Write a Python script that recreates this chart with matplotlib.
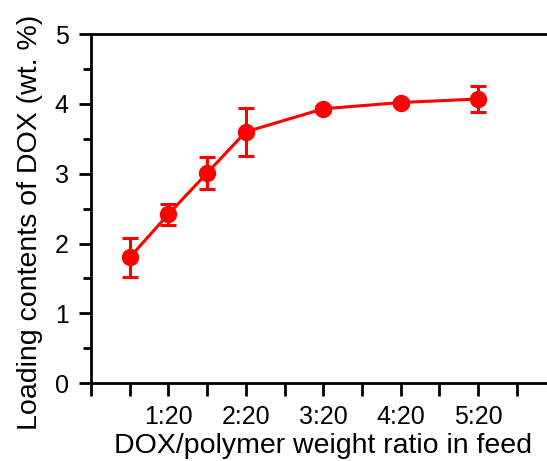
import numpy as np
import matplotlib
matplotlib.use('Agg')
import matplotlib.pyplot as plt

# DOX:polymer ratio (x:20) and loading content (wt. %)
ratio = [0.5, 1, 1.5, 2, 3, 4, 5]
loading = [1.80, 2.42, 3.01, 3.60, 3.93, 4.02, 4.07]
err = [0.28, 0.15, 0.23, 0.34, 0.04, 0.04, 0.19]
tick_labels = ['1:20', '2:20', '3:20', '4:20', '5:20']

plt.rcParams['font.family'] = ['Liberation Sans', 'DejaVu Sans']

fig = plt.figure(figsize=(5.47, 4.61), dpi=100)
ax = fig.add_axes([0.1664, 0.169, 0.849, 0.757])

ax.errorbar(ratio, loading, yerr=err, color='#ff0000', marker='o',
            markersize=11.5, linewidth=2.2, elinewidth=2.2, capsize=5.5,
            capthick=2.2)

ax.set_xlim(0, 6)
ax.set_ylim(0, 5)
ax.set_xticks(np.arange(0, 6.01, 0.5))
ax.set_xticklabels(['', ''] + [l for t in tick_labels for l in (t, '')][:-1] + ['', ''])
ax.set_yticks([0, 1, 2, 3, 4, 5])
ax.set_yticks(np.arange(0.5, 5, 1), minor=True)

for s in ax.spines.values():
    s.set_linewidth(2)
ax.tick_params(axis='both', which='major', width=2, length=9, labelsize=18,
               pad=7)
ax.tick_params(axis='y', which='minor', width=2, length=6)

ax.set_xlabel('DOX/polymer weight ratio in feed', fontsize=20.5, labelpad=3)
ax.set_ylabel('Loading contents of DOX (wt. %)', fontsize=20.5)
ax.yaxis.set_label_coords(-0.104, 0.46)

fig.savefig('out.png', dpi=100)
